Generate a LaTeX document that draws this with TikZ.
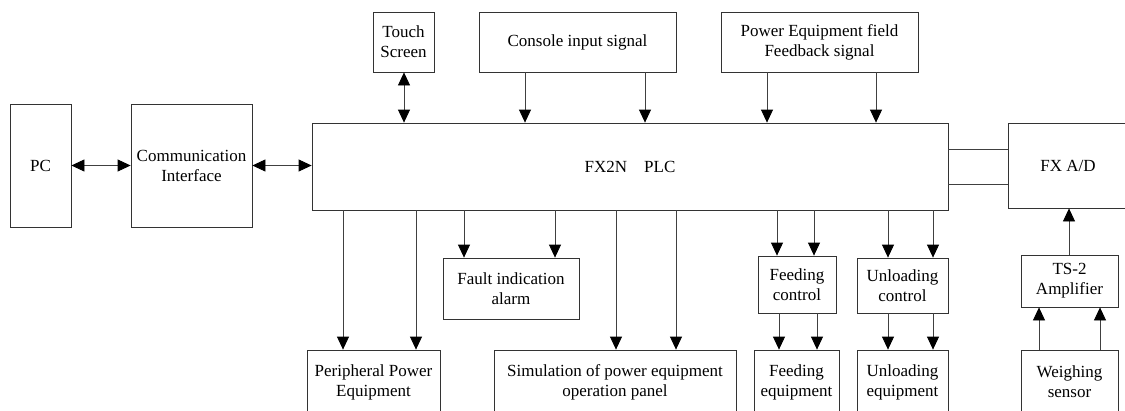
\documentclass[tikz,border=0pt]{standalone}
\usepackage{fontspec}
\setmainfont{Liberation Serif}
\usetikzlibrary{arrows.meta}
\begin{document}
\begin{tikzpicture}[x=1pt,y=-1pt,
  box/.style={draw=black!80, line width=0.8pt, rectangle, inner sep=0pt, align=center,
    font=\fontsize{17}{20}\selectfont},
  tip/.tip={Triangle[length=13pt,width=12pt,color=black]},
  arr/.style={draw=black!75, line width=0.8pt, -tip},
  darr/.style={draw=black!75, line width=0.8pt, tip-tip},
  ln/.style={draw=black!75, line width=0.8pt}]
\useasboundingbox (0,0) rectangle (1125,410);
\clip (0,0) rectangle (1125,410);
\fill[white] (0,0) rectangle (1125,410);
% boxes
\node[box, minimum width=61pt, minimum height=123pt] (pc) at (40.5,165.5) {PC};
\node[box, minimum width=121pt, minimum height=123pt] (comm) at (191.5,165.5) {Communication\\Interface};
\node[box, minimum width=636pt, minimum height=87pt] (plc) at (630,166.5) {FX2N\quad PLC};
\node[box, minimum width=61pt, minimum height=60pt] (touch) at (403.5,42) {Touch\\Screen};
\node[box, minimum width=197pt, minimum height=60pt] (console) at (577.5,42) {Console input signal};
\node[box, minimum width=197pt, minimum height=60pt] (power) at (819.5,42) {Power Equipment field\\Feedback signal};
\node[box, minimum width=120pt, minimum height=85pt] (fxad) at (1068,165.5) {FX A/D};
\node[box, minimum width=136pt, minimum height=61pt] (fault) at (511,288.5) {Fault indication\\alarm};
\node[box, minimum width=78pt, minimum height=57pt] (feedc) at (797,284.5) {Feeding\\control};
\node[box, minimum width=91pt, minimum height=55pt] (unlc) at (902.5,285.5) {Unloading\\control};
\node[box, minimum width=97pt, minimum height=52pt] (ts) at (1069.5,281) {TS-2\\Amplifier};
\node[box, minimum width=133pt, minimum height=64pt] (peri) at (373.5,382) {Peripheral Power\\Equipment};
\node[box, minimum width=242pt, minimum height=64pt] (sim) at (615,382) {Simulation of power equipment\\operation panel};
\node[box, minimum width=85pt, minimum height=64pt] (feede) at (796.5,382) {Feeding\\equipment};
\node[box, minimum width=91pt, minimum height=64pt] (unle) at (902.5,382) {Unloading\\equipment};
\node[box, minimum width=97pt, minimum height=64pt] (weigh) at (1069.5,382) {Weighing\\sensor};
% connectors
\draw[darr] (pc.east) -- (comm.west);
\draw[darr] (comm.east) -- (comm.east -| plc.west);
\draw[darr] (404,0 |- touch.south) -- (404,0 |- plc.north);
\draw[arr] (525,0 |- console.south) -- (525,0 |- plc.north);
\draw[arr] (645,0 |- console.south) -- (645,0 |- plc.north);
\draw[arr] (767,0 |- power.south) -- (767,0 |- plc.north);
\draw[arr] (876,0 |- power.south) -- (876,0 |- plc.north);
\draw[ln] (plc.east |- 0,149) -- (fxad.west |- 0,149);
\draw[ln] (plc.east |- 0,184) -- (fxad.west |- 0,184);
\draw[arr] (343,0 |- plc.south) -- (343,0 |- peri.north);
\draw[arr] (416,0 |- plc.south) -- (416,0 |- peri.north);
\draw[arr] (464,0 |- plc.south) -- (464,0 |- fault.north);
\draw[arr] (555,0 |- plc.south) -- (555,0 |- fault.north);
\draw[arr] (616,0 |- plc.south) -- (616,0 |- sim.north);
\draw[arr] (676,0 |- plc.south) -- (676,0 |- sim.north);
\draw[arr] (777,0 |- plc.south) -- (777,0 |- feedc.north);
\draw[arr] (814,0 |- plc.south) -- (814,0 |- feedc.north);
\draw[arr] (779,0 |- feedc.south) -- (779,0 |- feede.north);
\draw[arr] (817,0 |- feedc.south) -- (817,0 |- feede.north);
\draw[arr] (888,0 |- plc.south) -- (888,0 |- unlc.north);
\draw[arr] (933,0 |- plc.south) -- (933,0 |- unlc.north);
\draw[arr] (888,0 |- unlc.south) -- (888,0 |- unle.north);
\draw[arr] (933,0 |- unlc.south) -- (933,0 |- unle.north);
\draw[arr] (1069,0 |- ts.north) -- (1069,0 |- fxad.south);
\draw[arr] (1039,0 |- weigh.north) -- (1039,0 |- ts.south);
\draw[arr] (1100,0 |- weigh.north) -- (1100,0 |- ts.south);
\end{tikzpicture}
\end{document}
